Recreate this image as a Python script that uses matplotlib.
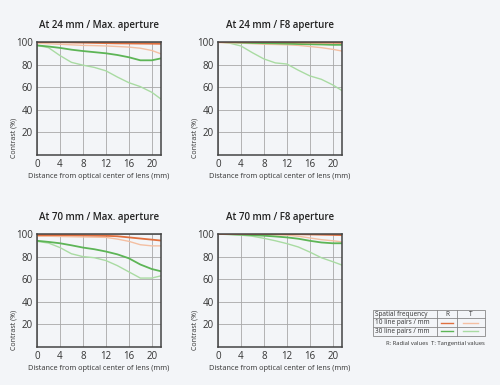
import matplotlib.pyplot as plt
from matplotlib.lines import Line2D
from matplotlib.patches import Rectangle

plt.rcParams.update({
    "font.family": "Open Sans",
    "font.size": 7,
})

# distance from optical centre (mm), shared by all curves
dist = [0, 2, 4, 6, 8, 10, 12, 14, 16, 18, 20, 21.6]

titles = ["At 24 mm / Max. aperture", "At 24 mm / F8 aperture",
          "At 70 mm / Max. aperture", "At 70 mm / F8 aperture"]

# 24 mm / max aperture
r10_a = [100, 100, 99.8, 99.6, 99.4, 99.2, 99, 98.8, 98.7, 98.6, 98.5, 98.4]
t10_a = [99, 98.5, 98, 97.5, 97, 96.8, 96.5, 96, 95.5, 94.5, 92.5, 89.5]
r30_a = [97, 96, 94.8, 93.2, 92, 91, 90, 88.5, 86.5, 83.8, 83.8, 85.5]
t30_a = [97, 95, 88, 82, 79.5, 77.5, 74.5, 69, 64, 60.5, 55.5, 49.5]

# 24 mm / F8
r10_b = [100, 100, 100, 100, 100, 99.9, 99.8, 99.7, 99.6, 99.5, 99.4, 99.3]
t10_b = [99.5, 99.3, 99, 98.5, 98, 97.8, 97.5, 97, 96, 95, 93.5, 92]
r30_b = [100, 99.8, 99.5, 99.2, 99, 98.8, 98.5, 98.2, 98, 97.8, 97.5, 97.5]
t30_b = [100, 99, 96.5, 90.5, 85, 81.5, 80.5, 75, 70, 67, 62, 57]

# 70 mm / max aperture
r10_c = [99, 99, 99, 99, 98.8, 98.6, 98.4, 98, 97, 96, 95, 94.2]
t10_c = [98, 98, 97.8, 97.6, 97.4, 97.2, 97, 95.5, 93.5, 90.5, 89.5, 89.5]
r30_c = [94, 93, 91.8, 90, 88, 86.5, 84.5, 82, 78.5, 73, 69, 67]
t30_c = [93.5, 92, 88, 82.5, 80, 79, 76.5, 72, 66.5, 61, 61, 63]

# 70 mm / F8
r10_d = [100, 100, 100, 100, 100, 100, 99.9, 99.8, 99.6, 99.4, 99.2, 99]
t10_d = [100, 100, 99.8, 99.6, 99.4, 99.2, 99, 98, 96.5, 95, 94, 93]
r30_d = [100, 99.8, 99.5, 99, 98.5, 97.8, 97, 95.8, 94, 92.5, 91.8, 91.8]
t30_d = [100, 99.6, 99, 98, 96.2, 94, 91.5, 88.5, 84, 79, 75.5, 72.5]

panels = [
    (r10_a, t10_a, r30_a, t30_a),
    (r10_b, t10_b, r30_b, t30_b),
    (r10_c, t10_c, r30_c, t30_c),
    (r10_d, t10_d, r30_d, t30_d),
]

c_r10 = "#e0703f"
c_t10 = "#f4bfa2"
c_r30 = "#5db556"
c_t30 = "#a9dba2"
bg = "#f3f5f8"

fig = plt.figure(figsize=(5, 3.85), dpi=100, facecolor=bg)

W, H = 500, 385
boxes = [(37, 42), (218, 42), (37, 234), (218, 234)]
for (px, py), title, (r10, t10, r30, t30) in zip(boxes, titles, panels):
    ax = fig.add_axes([px / W, 1 - (py + 113) / H, 124 / W, 113 / H])
    ax.set_facecolor(bg)
    ax.plot(dist, t30, color=c_t30, lw=1.0)
    ax.plot(dist, t10, color=c_t10, lw=1.0)
    ax.plot(dist, r30, color=c_r30, lw=1.3)
    ax.plot(dist, r10, color=c_r10, lw=1.3)
    ax.set_xlim(0, 21.6)
    ax.set_ylim(0, 100)
    ax.set_xticks([0, 4, 8, 12, 16, 20])
    ax.set_yticks([20, 40, 60, 80, 100])
    ax.grid(True, color="#a8a8a8", lw=0.6)
    ax.set_axisbelow(True)
    ax.tick_params(length=0, pad=3, labelsize=7, colors="#333333")
    for s in ax.spines.values():
        s.set_color("#444444")
        s.set_linewidth(1.1)
    ax.set_title(title, fontsize=7, fontweight="semibold", pad=10, color="#222222")
    ax.set_xlabel("Distance from optical center of lens (mm)", fontsize=5.3,
                  labelpad=2, color="#333333")
    ax.set_ylabel("Contrast (%)", fontsize=5, color="#333333")
    ax.yaxis.set_label_coords(-0.155, 0.15)

# legend table
lx0, lx1, lx2, lx3 = 373, 437, 457, 485
ly = [310, 318.3, 326.7, 335.7]
lg = fig.add_axes([0, 0, 1, 1])
lg.set_xlim(0, W)
lg.set_ylim(H, 0)
lg.axis("off")
lg.add_patch(Rectangle((lx0, ly[0]), lx3 - lx0, ly[3] - ly[0], fill=False,
                       ec="#888888", lw=0.6))
for yy in ly[1:3]:
    lg.add_line(Line2D([lx0, lx3], [yy, yy], color="#888888", lw=0.6))
for xx in (lx1, lx2):
    lg.add_line(Line2D([xx, xx], [ly[0], ly[3]], color="#888888", lw=0.6))

row_text = ["Spatial frequency", "10 line pairs / mm", "30 line pairs / mm"]
for i, txt in enumerate(row_text):
    yc = (ly[i] + ly[i + 1]) / 2
    lg.text(lx0 + 2, yc, txt, fontsize=4.7, va="center", ha="left", color="#333333")
yc0 = (ly[0] + ly[1]) / 2
lg.text((lx1 + lx2) / 2, yc0, "R", fontsize=4.7, va="center", ha="center", color="#333333")
lg.text((lx2 + lx3) / 2, yc0, "T", fontsize=4.7, va="center", ha="center", color="#333333")
for i, (cr, ct) in enumerate([(c_r10, c_t10), (c_r30, c_t30)]):
    yc = (ly[i + 1] + ly[i + 2]) / 2
    lg.add_line(Line2D([lx1 + 4, lx2 - 4], [yc, yc], color=cr, lw=1.0))
    lg.add_line(Line2D([lx2 + 6, lx3 - 7], [yc, yc], color=ct, lw=1.0))
lg.text(lx3, 343, "R: Radial values  T: Tangential values", fontsize=4.2,
        ha="right", va="center", color="#333333")

fig.savefig("out.png", dpi=100, facecolor=bg)
